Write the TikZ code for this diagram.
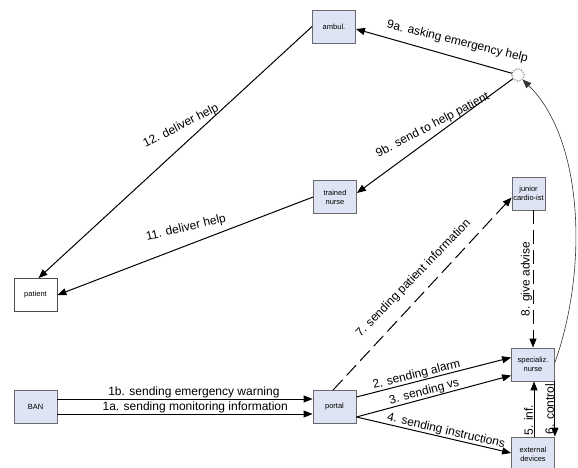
\documentclass[tikz,border=0pt]{standalone}
\usepackage{fontspec}
\setmainfont{Liberation Sans}
\usetikzlibrary{arrows.meta,shapes.geometric}
\definecolor{boxfill}{RGB}{222,228,243}
\definecolor{boxline}{RGB}{105,105,110}
\tikzset{
    every node/.style={font=\fontsize{12}{14}\selectfont},
    box/.style={rectangle, draw=boxline, fill=boxfill, line width=0.8pt,
    	minimum width=43pt, minimum height=33pt, inner sep=1pt, align=center,
    	font=\fontsize{7.5}{9}\selectfont}
}
\tikzset{
    flow/.style={line width=1pt, -{Triangle[length=9pt,width=7pt]}},
    lbl/.style={sloped, above, inner sep=0.5pt},
    vlbl/.style={rotate=90, anchor=south, inner sep=0.5pt},
    tag/.style={anchor=base, inner sep=0pt},
    longdash/.style={dash pattern=on 14pt off 6pt},
    curve/.style={line width=0.6pt, black!80, -{Triangle[length=9pt,width=7pt]}}
}

\begin{document}
\begin{tikzpicture}[x=1pt, y=1pt]
  \useasboundingbox (0,0) rectangle (578,467);
  \node (ambul) [box] at (334,440.5) {ambul.};
  \node (trained) [box] at (335,270) {trained\\nurse};
  \node (junior) [box, minimum width=33pt] at (528.5,273.5) {junior\\cardio-ist};
  \node (patient) [box, fill=white, draw=black!70] at (35.5,172) {patient};
  \node (ban) [box] at (35.5,60) {BAN};
  \node (portal) [box] at (334.5,60) {portal};
  \node (spec) [box] at (533,102.5) {specializ.\\nurse};
  \node (ext) [box, minimum height=34pt] at (533,13) {external\\devices};
  \node (hubd) [diamond, draw=gray!45, minimum size=15pt, inner sep=0pt] at (518,392) {};
  \node (hub) [circle, draw=black!85, dotted, line width=0.7pt, minimum size=12pt, inner sep=0pt] at (518,392) {};

  \draw [flow] ([yshift=8pt]ban.east) -- node [lbl, pos=0.535] {1b. sending emergency warning} ([yshift=8pt]portal.west);
  \draw [flow] ([yshift=-7pt]ban.east) -- node [lbl, pos=0.54] {1a. sending monitoring information} ([yshift=-7pt]portal.west);
  \draw [flow] ([yshift=10pt]portal.east) -- node [lbl, pos=0.4] {2. sending alarm} ([yshift=7pt]spec.west);
  \draw [flow] ([yshift=-10pt]portal.east) -- node [lbl, pos=0.45] {3. sending vs} ([yshift=-11pt]spec.west);
  \draw [flow] ([yshift=-10pt]portal.east) -- node [lbl, pos=0.57] {4. sending instructions} ([yshift=1pt]ext.west);
  \draw [flow] ([xshift=1pt]ext.north) -- node [vlbl, pos=0.3] {5. inf.} ([xshift=1pt]spec.south);
  \draw [flow] (spec.south east) -- node [vlbl, pos=0.5] {6. control} (ext.north east);
  \draw [flow, longdash] ([xshift=-1.5pt]portal.north) -- ([yshift=-4pt]junior.west);
  \draw [flow, longdash] ([xshift=4.5pt]junior.south) -- node [vlbl, pos=0.5] {8. give advise} (spec.north);
  \draw [curve] ([yshift=2pt]spec.east) .. controls (588,197) and (584,327) .. (hub);
  \draw [flow] (hub) -- ([yshift=-2.5pt]ambul.east);
  \draw [flow] (hub) -- ([yshift=4pt]trained.east);
  \draw [flow] (ambul.west) -- ([xshift=3pt]patient.north);
  \draw [flow] (trained.west) -- (patient.east);

  \node (t7) [tag, rotate=45.8] at (415.8,186.2) {7. sending patient information};
  \node (t9a) [tag, rotate=-13.7] at (456.7,422) {9a. asking emergency help};
  \node (t9b) [tag, rotate=27.6] at (434.2,338.7) {9b. send to help patient};
  \node (t11) [tag, rotate=13.4] at (186.7,236) {11. deliver help};
  \node (t12) [tag, rotate=27] at (182.5,338) {12. deliver help};
\end{tikzpicture}
\end{document}
